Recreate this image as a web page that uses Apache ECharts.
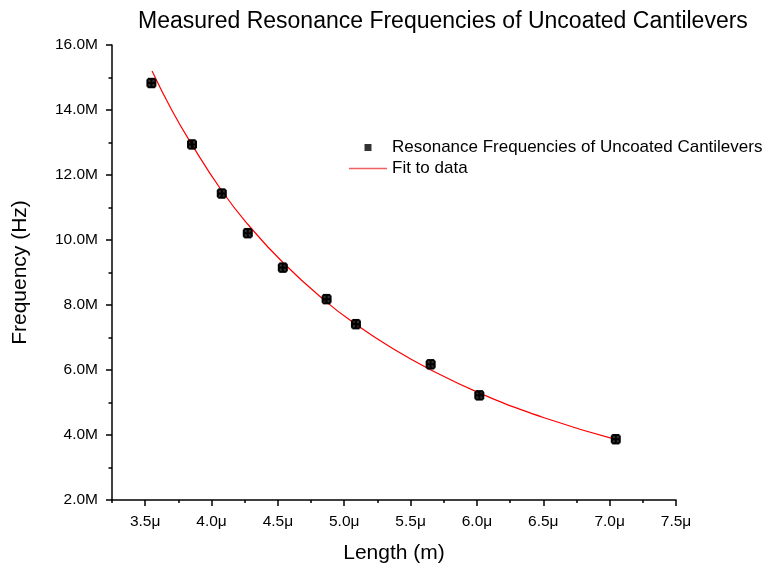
<!DOCTYPE html>
<html>
<head>
<meta charset="utf-8">
<script src="https://cdn.jsdelivr.net/npm/echarts@6/dist/echarts.min.js"></script>
<style>html,body{margin:0;padding:0;background:#fff;}#c{width:766px;height:573px;}</style>
</head>
<body>
<div id="c"></div>
<script>
// Measured data (length in µm, frequency in MHz)
var lengths = [3.547, 3.853, 4.077, 4.273, 4.537, 4.867, 5.088, 5.651, 6.018, 7.046];
var freqs   = [14.83, 12.94, 11.43, 10.21, 9.15, 8.18, 7.41, 6.175, 5.22, 3.87];
var lengthErr = [0.03, 0.03, 0.03, 0.03, 0.03, 0.03, 0.03, 0.03, 0.03, 0.03];
var freqErr   = [0.13, 0.13, 0.13, 0.13, 0.13, 0.13, 0.13, 0.13, 0.13, 0.13];
// Fit curve
var fitX = [3.552, 3.70, 3.85, 4.08, 4.27, 4.54, 4.87, 5.09, 5.35, 5.65, 6.02, 6.50, 7.05];
var fitY = [15.20, 14.00, 12.95, 11.50, 10.50, 9.30, 8.08, 7.40, 6.70, 6.01, 5.29, 4.54, 3.86];
// Tick labels
var xMajorTicks = [3.5, 4.0, 4.5, 5.0, 5.5, 6.0, 6.5, 7.0, 7.5];
var xMinorTicks = [3.25, 3.75, 4.25, 4.75, 5.25, 5.75, 6.25, 6.75, 7.25];
var yTickLabels = ['2.0M','4.0M','6.0M','8.0M','10.0M','12.0M','14.0M','16.0M'];

var FONT = 'Liberation Sans, Arial, sans-serif';
var scatterData = lengths.map(function (v, i) { return [v, freqs[i]]; });
var errData = lengths.map(function (v, i) { return [v, freqs[i], lengthErr[i], freqErr[i]]; });
var fitData = fitX.map(function (v, i) { return [v, fitY[i]]; });

var chart = echarts.init(document.getElementById('c'));
chart.setOption({
  backgroundColor: '#fff',
  animation: false,
  title: {
    text: 'Measured Resonance Frequencies of Uncoated Cantilevers',
    left: 133, top: 5,
    textStyle: { fontFamily: FONT, fontSize: 23, fontWeight: 'normal', color: '#000' }
  },
  legend: {
    orient: 'vertical',
    left: 344, top: 134,
    itemWidth: 38, itemHeight: 7, itemGap: 4,
    textStyle: { fontFamily: FONT, fontSize: 17, color: '#000' },
    data: [
      { name: 'Resonance Frequencies of Uncoated Cantilevers', icon: 'path://M0,0L10,0L10,10L0,10Z', itemStyle: { color: '#000' } },
      { name: 'Fit to data', icon: 'path://M0,0L38,0L38,1.3L0,1.3Z', itemStyle: { color: '#f06060' } }
    ]
  },
  grid: { left: 112, right: 90, top: 45, bottom: 73, containLabel: false },
  xAxis: [{
    type: 'value', min: 3.25, max: 7.5,
    name: 'Length (m)', nameLocation: 'middle', nameGap: 43,
    nameTextStyle: { fontFamily: FONT, fontSize: 21, color: '#000' },
    axisLine: { show: true, onZero: false, lineStyle: { color: '#000', width: 1.5 } },
    axisTick: { show: true, customValues: xMajorTicks, length: 6, lineStyle: { color: '#000', width: 1.5 } },
    axisLabel: { customValues: xMajorTicks, fontFamily: FONT, fontSize: 15.5, color: '#000', margin: 14,
      formatter: function (v) { return v.toFixed(1) + 'μ'; } },
    splitLine: { show: false }
  }, {
    type: 'value', min: 3.25, max: 7.5, position: 'bottom',
    axisLine: { show: false },
    axisTick: { show: true, customValues: xMinorTicks, length: 3, lineStyle: { color: '#000', width: 1.5 } },
    axisLabel: { show: false },
    splitLine: { show: false }
  }],
  yAxis: {
    type: 'value', min: 2, max: 16, interval: 2,
    name: 'Frequency (Hz)', nameLocation: 'middle', nameGap: 81,
    nameTextStyle: { fontFamily: FONT, fontSize: 21, color: '#000' },
    axisLine: { show: true, onZero: false, lineStyle: { color: '#000', width: 1.5 } },
    axisTick: { show: true, length: 6, lineStyle: { color: '#000', width: 1.5 } },
    minorTick: { show: true, splitNumber: 2, length: 3.5, lineStyle: { color: '#000', width: 1.5 } },
    axisLabel: { fontFamily: FONT, fontSize: 15.5, color: '#000', margin: 14,
      formatter: function (v) { return yTickLabels[Math.round((v - 2) / 2)]; } },
    splitLine: { show: false }
  },
  series: [{
    name: 'Fit to data', type: 'line', data: fitData, smooth: true, symbol: 'none',
    lineStyle: { color: '#ff0000', width: 1.2 }, itemStyle: { color: '#ff0000' }, z: 3
  }, {
    name: 'Resonance Frequencies of Uncoated Cantilevers', type: 'scatter', data: scatterData,
    symbol: 'rect', symbolSize: 9, itemStyle: { color: '#000' }, z: 4
  }, {
    type: 'custom', data: errData, z: 4,
    renderItem: function (params, api) {
      var x = api.value(0), y = api.value(1), dx = api.value(2), dy = api.value(3);
      var l = api.coord([x - dx, y]), r = api.coord([x + dx, y]);
      var t = api.coord([x, y + dy]), b = api.coord([x, y - dy]);
      var st = { stroke: '#000', lineWidth: 2 };
      return { type: 'group', children: [
        { type: 'line', shape: { x1: l[0], y1: l[1], x2: r[0], y2: r[1] }, style: st },
        { type: 'line', shape: { x1: l[0], y1: l[1] - 3.5, x2: l[0], y2: l[1] + 3.5 }, style: st },
        { type: 'line', shape: { x1: r[0], y1: r[1] - 3.5, x2: r[0], y2: r[1] + 3.5 }, style: st },
        { type: 'line', shape: { x1: t[0], y1: t[1], x2: b[0], y2: b[1] }, style: st },
        { type: 'line', shape: { x1: t[0] - 3.5, y1: t[1], x2: t[0] + 3.5, y2: t[1] }, style: st },
        { type: 'line', shape: { x1: b[0] - 3.5, y1: b[1], x2: b[0] + 3.5, y2: b[1] }, style: st }
      ] };
    }
  }]
});
</script>
</body>
</html>
